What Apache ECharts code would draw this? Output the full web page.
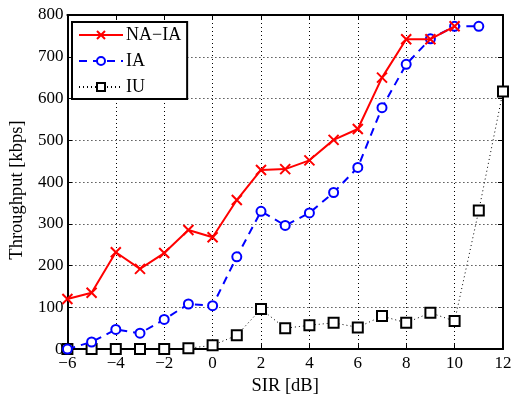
<!DOCTYPE html>
<html><head><meta charset="utf-8">
<script src="https://cdn.jsdelivr.net/npm/echarts@6/dist/echarts.min.js"></script>
<style>html,body{margin:0;padding:0;background:#fff}#c{width:520px;height:401px}</style>
</head><body><div id="c"></div>
<script>
const sirNaIa = [-6,-5,-4,-3,-2,-1,0,1,2,3,4,5,6,7,8,9,10];
const naIa = [120,135,232,192,230,285,268,357,429,431,452,501,527,650,742,742,773];
const sirIa = [-6,-5,-4,-3,-2,-1,0,1,2,3,4,5,6,7,8,9,10,11];
const ia = [0,17,47,38,71,108,104,221,330,296,326,375,435,578,682,743,773,773];
const sirIu = [-6,-5,-4,-3,-2,-1,0,1,2,3,4,5,6,7,8,9,10,11,12];
const iu = [0,0,0,0,0,2,9,33,96,50,57,63,52,79,63,87,67,332,617];
const seriesNames = ['NA\u2212IA','IA','IU'];
const xTicks = {min:-6,max:12,interval:2};
const yTicks = {min:0,max:800,interval:100};

const pairs = (xs, ys) => xs.map((x,i)=>[x,ys[i]]);
const font = 'Liberation Serif';
const minus = v => String(v).replace('-', '\u2212');
const chart = echarts.init(document.getElementById('c'));
const gridLine = {show:true,lineStyle:{color:'#000',type:[1,3],width:1}};
chart.setOption({
  animation:false,
  backgroundColor:'#fff',
  grid:{left:67,right:17,top:15,bottom:43,show:false},
  legend:{
    left:72,top:22,orient:'vertical',
    backgroundColor:'#fff',borderColor:'#000',borderWidth:2,borderRadius:0,
    padding:[4,6,3,6],itemGap:8,itemWidth:44,itemHeight:10,
    textStyle:{fontFamily:font,fontSize:18,color:'#000',padding:[0,0,0,-2]},
    data:seriesNames
  },
  xAxis:[{
    type:'value',min:xTicks.min,max:xTicks.max,interval:xTicks.interval,
    name:'SIR [dB]',nameLocation:'middle',nameGap:25,
    nameTextStyle:{fontFamily:font,fontSize:18.5,color:'#000'},
    axisLine:{show:true,onZero:false,lineStyle:{color:'#000',width:2}},
    axisTick:{inside:true,length:5,lineStyle:{color:'#000',width:1}},
    axisLabel:{fontFamily:font,fontSize:17,color:'#000',margin:6,formatter:minus},
    splitLine:gridLine
  },{
    type:'value',position:'top',min:xTicks.min,max:xTicks.max,interval:xTicks.interval,
    axisLine:{show:true,onZero:false,lineStyle:{color:'#000',width:2}},
    axisTick:{inside:true,length:5,lineStyle:{color:'#000',width:1}},
    axisLabel:{show:false},splitLine:{show:false}
  }],
  yAxis:[{
    type:'value',min:yTicks.min,max:yTicks.max,interval:yTicks.interval,
    name:'Throughput [kbps]',nameLocation:'middle',nameGap:40,
    nameTextStyle:{fontFamily:font,fontSize:18.5,color:'#000',padding:[0,16,0,0]},
    axisLine:{show:true,onZero:false,lineStyle:{color:'#000',width:2}},
    axisTick:{inside:true,length:5,lineStyle:{color:'#000',width:1}},
    axisLabel:{fontFamily:font,fontSize:17,color:'#000',margin:4},
    splitLine:gridLine
  },{
    type:'value',position:'right',min:yTicks.min,max:yTicks.max,interval:yTicks.interval,
    axisLine:{show:true,onZero:false,lineStyle:{color:'#000',width:2}},
    axisTick:{inside:true,length:5,lineStyle:{color:'#000',width:1}},
    axisLabel:{show:false},splitLine:{show:false}
  }],
  series:[{
    name:seriesNames[0],type:'line',data:pairs(sirNaIa,naIa),
    symbol:'path://M0,0L10,10M10,0L0,10',symbolSize:10,
    lineStyle:{color:'#ff0000',width:2,type:'solid'},
    itemStyle:{color:'#ff0000',borderColor:'#ff0000',borderWidth:2},
    z:3
  },{
    name:seriesNames[1],type:'line',data:pairs(sirIa,ia),
    symbol:'emptyCircle',symbolSize:9,
    lineStyle:{color:'#0000ff',width:2,type:[8,6]},
    itemStyle:{color:'#0000ff',borderColor:'#0000ff',borderWidth:2},
    z:2
  },{
    name:seriesNames[2],type:'line',data:pairs(sirIu,iu),
    symbol:'emptyRect',symbolSize:10,
    lineStyle:{color:'#000',width:1,type:[1,3]},
    itemStyle:{color:'#000',borderColor:'#000',borderWidth:2},
    z:1
  }]
});
</script></body></html>
